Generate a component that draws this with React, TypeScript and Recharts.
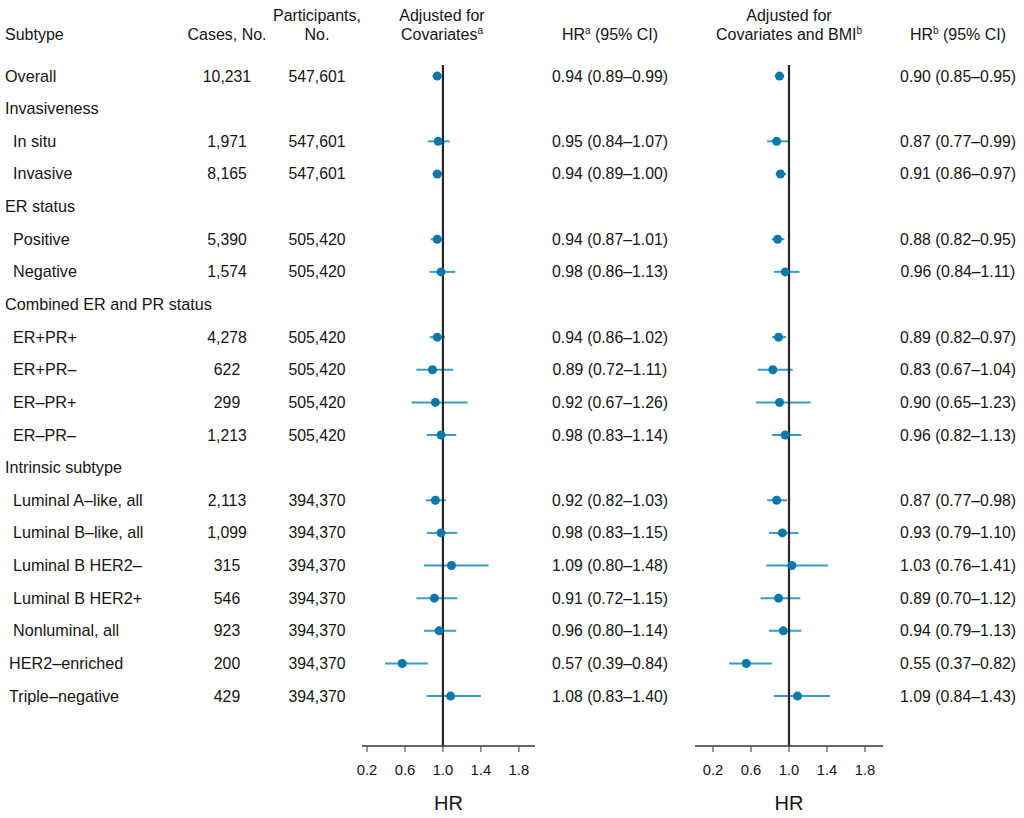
import {
  ErrorBar,
  ReferenceLine,
  Scatter,
  ScatterChart,
  XAxis,
  YAxis,
} from "recharts";

const subtypes = [
  "Overall",
  "Invasiveness",
  "In situ",
  "Invasive",
  "ER status",
  "Positive",
  "Negative",
  "Combined ER and PR status",
  "ER+PR+",
  "ER+PR–",
  "ER–PR+",
  "ER–PR–",
  "Intrinsic subtype",
  "Luminal A–like, all",
  "Luminal B–like, all",
  "Luminal B HER2–",
  "Luminal B HER2+",
  "Nonluminal, all",
  "HER2–enriched",
  "Triple–negative",
];
const indents = [0, 0, 8, 8, 0, 8, 8, 0, 8, 8, 8, 8, 0, 8, 8, 8, 8, 8, 4, 4];
const cases = [
  "10,231", "", "1,971", "8,165", "", "5,390", "1,574", "", "4,278", "622",
  "299", "1,213", "", "2,113", "1,099", "315", "546", "923", "200", "429",
];
const participants = [
  "547,601", "", "547,601", "547,601", "", "505,420", "505,420", "", "505,420", "505,420",
  "505,420", "505,420", "", "394,370", "394,370", "394,370", "394,370", "394,370", "394,370", "394,370",
];

// covariates only
const hrA = [0.94, null, 0.95, 0.94, null, 0.94, 0.98, null, 0.94, 0.89, 0.92, 0.98, null, 0.92, 0.98, 1.09, 0.91, 0.96, 0.57, 1.08];
const loA = [0.89, null, 0.84, 0.89, null, 0.87, 0.86, null, 0.86, 0.72, 0.67, 0.83, null, 0.82, 0.83, 0.8, 0.72, 0.8, 0.39, 0.83];
const hiA = [0.99, null, 1.07, 1.0, null, 1.01, 1.13, null, 1.02, 1.11, 1.26, 1.14, null, 1.03, 1.15, 1.48, 1.15, 1.14, 0.84, 1.4];

// covariates + BMI
const hrB = [0.9, null, 0.87, 0.91, null, 0.88, 0.96, null, 0.89, 0.83, 0.9, 0.96, null, 0.87, 0.93, 1.03, 0.89, 0.94, 0.55, 1.09];
const loB = [0.85, null, 0.77, 0.86, null, 0.82, 0.84, null, 0.82, 0.67, 0.65, 0.82, null, 0.77, 0.79, 0.76, 0.7, 0.79, 0.37, 0.84];
const hiB = [0.95, null, 0.99, 0.97, null, 0.95, 1.11, null, 0.97, 1.04, 1.23, 1.13, null, 0.98, 1.1, 1.41, 1.12, 1.13, 0.82, 1.43];

const hrTicks = [0.2, 0.6, 1.0, 1.4, 1.8];
const rowTicks = subtypes.map((_, i) => i);

const FONT = "'Liberation Sans', Arial, Helvetica, sans-serif";
const INK = "#151515";
const DOT = "#0a78a8";
const BAR = "#3a9cc6";

const fmt = (v: number) => v.toFixed(2);
const ciText = (hr: (number | null)[], lo: (number | null)[], hi: (number | null)[], i: number) =>
  hr[i] == null ? "" : `${fmt(hr[i] as number)} (${fmt(lo[i] as number)}–${fmt(hi[i] as number)})`;

function buildPoints(hr: (number | null)[], lo: (number | null)[], hi: (number | null)[]) {
  return hr
    .map((v, i) =>
      v == null ? null : { x: v, y: i, err: [v - (lo[i] as number), (hi[i] as number) - v] }
    )
    .filter(Boolean) as { x: number; y: number; err: number[] }[];
}

const pointsA = buildPoints(hrA, loA, hiA);
const pointsB = buildPoints(hrB, loB, hiB);

const textStyle = { fontFamily: FONT, fontSize: 15.8, fill: INK };
const labelStyle = { fontFamily: FONT, fontSize: 16.2, fill: INK };

function LeftRowTick(props: any) {
  const i = props.payload.value as number;
  const y = props.y + 5.5;
  return (
    <g>
      <text x={5 + indents[i]} y={y} textAnchor="start" style={labelStyle}>
        {subtypes[i]}
      </text>
      <text x={227} y={y} textAnchor="middle" style={textStyle}>
        {cases[i]}
      </text>
      <text x={317} y={y} textAnchor="middle" style={textStyle}>
        {participants[i]}
      </text>
      <text x={610} y={y} textAnchor="middle" style={textStyle}>
        {ciText(hrA, loA, hiA, i)}
      </text>
    </g>
  );
}

function RightRowTick(props: any) {
  const i = props.payload.value as number;
  return (
    <text x={958 - 690} y={props.y + 5.5} textAnchor="middle" style={textStyle}>
      {ciText(hrB, loB, hiB, i)}
    </text>
  );
}

const dot = (p: any) => <circle cx={p.cx} cy={p.cy} r={4.5} fill={DOT} />;

function Panel({
  points,
  width,
  margin,
  domain,
  yWidth,
  tick,
}: {
  points: { x: number; y: number; err: number[] }[];
  width: number;
  margin: { top: number; right: number; bottom: number; left: number };
  domain: [number, number];
  yWidth: number;
  tick: any;
}) {
  return (
    <ScatterChart width={width} height={818} margin={margin}>
      <XAxis
        type="number"
        dataKey="x"
        domain={domain}
        allowDataOverflow
        ticks={hrTicks}
        interval={0}
        tickFormatter={(v) => v.toFixed(1)}
        height={72}
        stroke="#333"
        axisLine={{ stroke: "#333", strokeWidth: 1.5 }}
        tickLine={{ stroke: "#555", strokeWidth: 1.2 }}
        tickSize={6}
        tickMargin={12}
        tick={{ fill: INK, fontSize: 14.8, fontFamily: FONT }}
        label={{ value: "HR", position: "insideBottom", offset: 8, fontSize: 20, fill: INK, fontFamily: FONT }}
      />
      <YAxis
        type="number"
        dataKey="y"
        domain={[-0.34, 20.53]}
        allowDataOverflow
        reversed
        ticks={rowTicks}
        interval={0}
        width={yWidth}
        axisLine={false}
        tickLine={false}
        tick={tick}
      />
      <Scatter data={points} isAnimationActive={false} shape={dot}>
        <ErrorBar dataKey="err" direction="x" width={0} stroke={BAR} strokeWidth={2} />
      </Scatter>
      <ReferenceLine x={1} stroke="#262626" strokeWidth={2.2} />
    </ScatterChart>
  );
}

function Header() {
  const st = { fontFamily: FONT, fontSize: 16, fill: INK };
  return (
    <svg width={1024} height={60} style={{ position: "absolute", left: 0, top: 0 }}>
      <text x={5} y={40} style={st}>Subtype</text>
      <text x={227} y={40} textAnchor="middle" style={st}>Cases, No.</text>
      <text x={317} y={21} textAnchor="middle" style={st}>Participants,</text>
      <text x={317} y={40} textAnchor="middle" style={st}>No.</text>
      <text x={442} y={21} textAnchor="middle" style={st}>Adjusted for</text>
      <text x={442} y={40} textAnchor="middle" style={st}>
        Covariates<tspan dy={-6} fontSize={10}>a</tspan>
      </text>
      <text x={610} y={40} textAnchor="middle" style={st}>
        HR<tspan dy={-6} fontSize={10}>a</tspan>
        <tspan dy={6}> (95% CI)</tspan>
      </text>
      <text x={789} y={21} textAnchor="middle" style={st}>Adjusted for</text>
      <text x={789} y={40} textAnchor="middle" style={st}>
        Covariates and BMI<tspan dy={-6} fontSize={10}>b</tspan>
      </text>
      <text x={958} y={40} textAnchor="middle" style={st}>
        HR<tspan dy={-6} fontSize={10}>b</tspan>
        <tspan dy={6}> (95% CI)</tspan>
      </text>
    </svg>
  );
}

export default function App() {
  return (
    <div style={{ position: "relative", width: 1024, height: 818, background: "#fff", overflow: "hidden" }}>
      <style>{"body{margin:0;background:#fff}"}</style>
      <div style={{ position: "absolute", left: 0, top: 0 }}>
        <Panel
          points={pointsA}
          width={690}
          margin={{ top: 65, right: 155, bottom: 0, left: 0 }}
          domain={[0.147, 1.97]}
          yWidth={362}
          tick={<LeftRowTick />}
        />
      </div>
      <div style={{ position: "absolute", left: 690, top: 0 }}>
        <Panel
          points={pointsB}
          width={334}
          margin={{ top: 65, right: 141, bottom: 0, left: 0 }}
          domain={[0.01, 1.99]}
          yWidth={5}
          tick={<RightRowTick />}
        />
      </div>
      <Header />
    </div>
  );
}
